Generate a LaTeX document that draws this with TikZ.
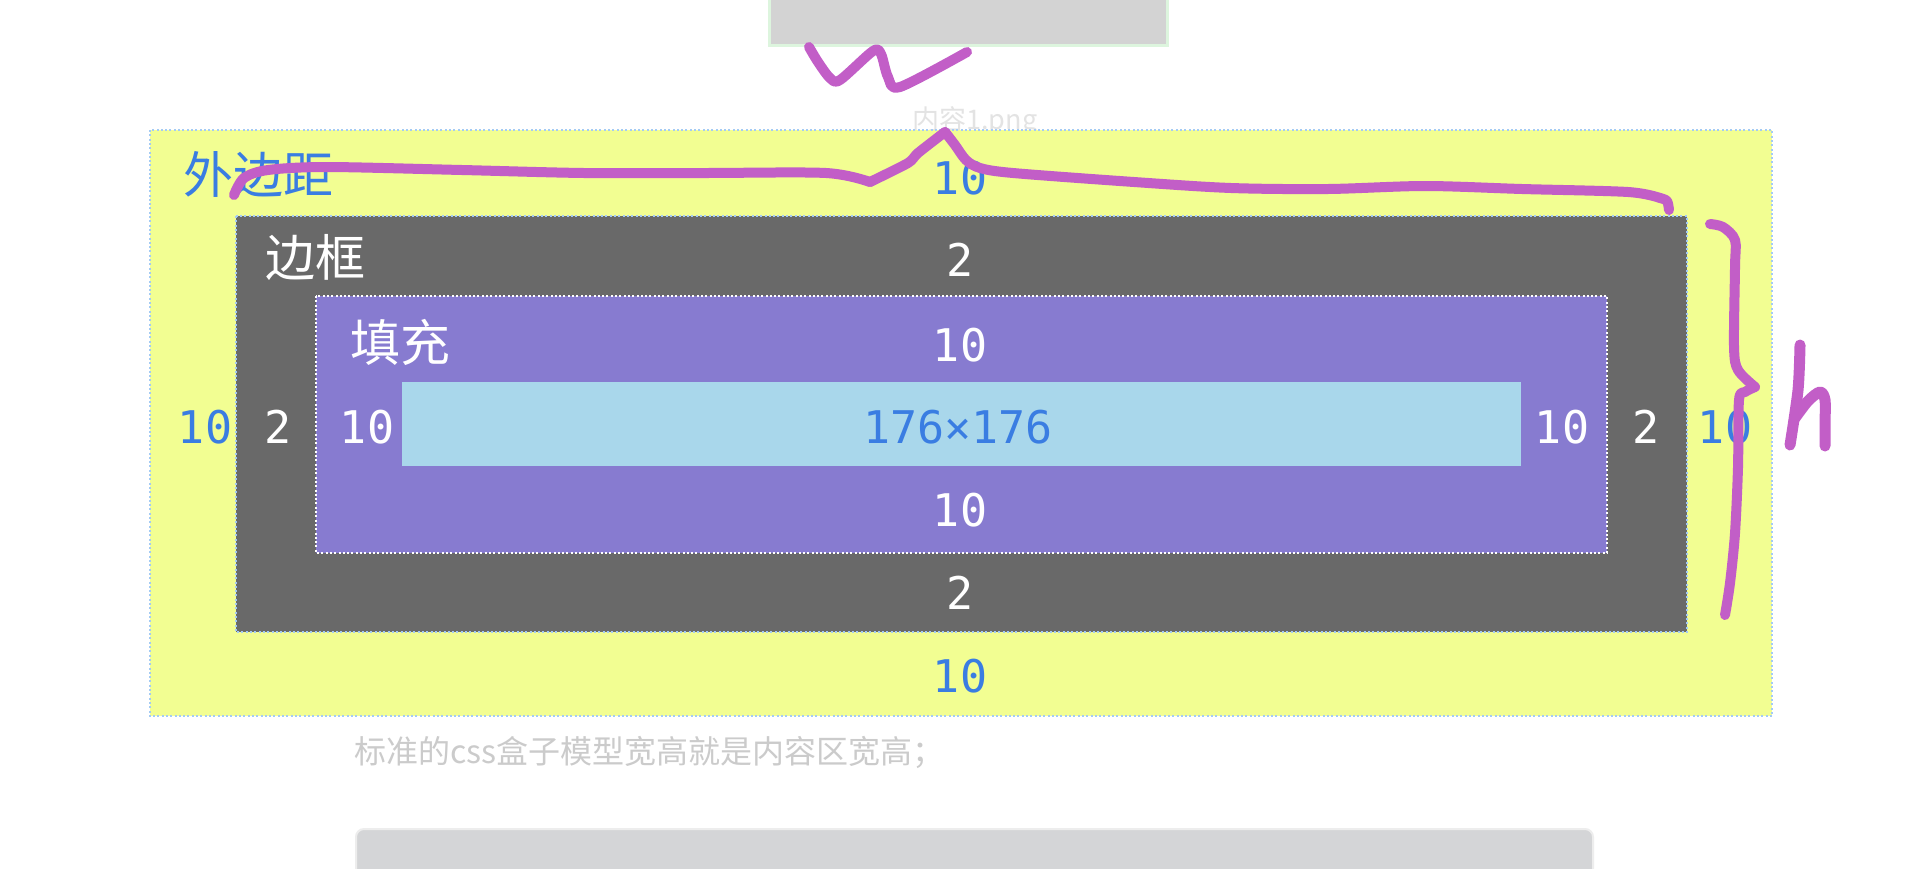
\documentclass[tikz,border=0pt]{standalone}
\usepackage{fontspec}
\setmonofont{DejaVu Sans Mono}
\newfontfamily\cjk{Noto Sans CJK SC}
\definecolor{marginyellow}{HTML}{F2FE92}
\definecolor{bordergray}{HTML}{696969}
\definecolor{padpurple}{HTML}{877BD0}
\definecolor{contentblue}{HTML}{A9D7EB}
\definecolor{numblue}{HTML}{3A7DE2}
\definecolor{dotblue}{HTML}{A4CBF4}
\definecolor{inkmag}{HTML}{C25EC7}
\definecolor{topgray}{HTML}{D3D3D3}
\definecolor{topedge}{HTML}{DDF5DE}
\definecolor{capgray}{HTML}{E3E3E3}
\definecolor{captwogray}{HTML}{CBCBCB}
\definecolor{botgray}{HTML}{D4D5D7}
\definecolor{botedge}{HTML}{EDEDED}
\begin{document}
\begin{tikzpicture}[x=0.5pt,y=-0.5pt,
  num/.style={font=\fontsize{22.5}{24}\selectfont\ttfamily, inner sep=0pt},
  bluenum/.style={num, text=numblue},
  whitenum/.style={num, text=white},
  cjklab/.style={font=\fontsize{25}{27}\selectfont\cjk, inner sep=0pt},
  dotline/.style={line width=1.2pt, dash pattern=on 1pt off 1.15pt},
  ink/.style={draw=inkmag, line width=5pt, line cap=round, line join=round},
]
\useasboundingbox (0,0) rectangle (1930,868);
\fill[white] (0,0) rectangle (1930,868);

% top image placeholder
\filldraw[fill=topgray, draw=topedge, line width=1.5pt] (769,-6) rectangle (1167,45);
\node[anchor=base west, inner sep=0pt, text=capgray, font=\fontsize{13.5}{15}\selectfont\cjk] (imgcap) at (912,129) {内容1.png};

% margin box
\fill[marginyellow] (150,130) rectangle (1772,716);
\draw[dotline, draw=dotblue] (150,130) rectangle (1772,716);
% border box
\fill[bordergray] (236,216) rectangle (1687,632);
\draw[dotline, draw=dotblue, line width=0.9pt] (236,216) rectangle (1687,632);
% padding box
\fill[padpurple] (316,296) rectangle (1607,553);
\draw[dotline, draw=white] (316,296) rectangle (1607,553);
% content box
\fill[contentblue] (402,382) rectangle (1521,466);

% labels
\node[cjklab, text=numblue] (mlab) at (258,175) {外边距};
\node[cjklab, text=white] (blab) at (315,257) {边框};
\node[cjklab, text=white] (plab) at (400,342) {填充};

\node[bluenum] (mtop) at (960,178) {10};
\node[whitenum] (btop) at (960,260) {2};
\node[whitenum] (ptop) at (960,345) {10};
\node[bluenum] (content) at (958,427) {176×176};
\node[whitenum] (pbot) at (960,510) {10};
\node[whitenum] (bbot) at (960,593) {2};
\node[bluenum] (mbot) at (960,676) {10};

\node[bluenum] (mleft) at (205,427) {10};
\node[whitenum] (bleft) at (278,427) {2};
\node[whitenum] (pleft) at (367,427) {10};
\node[whitenum] (pright) at (1562,427) {10};
\node[whitenum] (bright) at (1646,427) {2};
\node[bluenum] (mright) at (1725,427) {10};

% caption
\node[anchor=west, inner sep=0pt, text=captwogray, font=\fontsize{16}{18}\selectfont\cjk] (caption) at (354,752) {标准的css盒子模型宽高就是内容区宽高；};

% bottom code block
\filldraw[fill=botgray, draw=botedge, line width=1pt, rounded corners=4pt] (356,829) rectangle (1593,910);

% hand-drawn annotations
\draw[ink] plot[smooth, tension=0.5] coordinates {(809,47) (818,62) (830,78) (840,80) (873,51) (881,54) (888,77) (900,87) (967,52)};

\draw[ink] plot[smooth, tension=0.5] coordinates {(234,195) (244,178) (268,170) (327,167) (462,170) (584,173) (705,173) (826,173) (870,182)};
\draw[ink] plot[smooth, tension=0.4] coordinates {(870,182) (908,163) (918,153) (945,132)};
\draw[ink] plot[smooth, tension=0.5] coordinates {(945,132) (955,145) (966,160) (980,168) (1013,173) (1134,182) (1231,188) (1328,189) (1425,186) (1522,189) (1628,192) (1660,198)};
\draw[ink] plot[smooth, tension=0.5] coordinates {(1660,198) (1667,201) (1669,210)};

\draw[ink] plot[smooth, tension=0.5] coordinates {(1710,224) (1723,227) (1735,240) (1735,267) (1734,347) (1738,370) (1755,387)};
\draw[ink] plot[smooth, tension=0.5] coordinates {(1755,387) (1745,392) (1739,400) (1738,467) (1735,533) (1730,583) (1725,615)};

\draw[ink, line width=5.5pt] plot[smooth, tension=0.5] coordinates {(1800,345) (1798,390) (1790,445)};
\draw[ink, line width=5.5pt] plot[smooth, tension=0.5] coordinates {(1795,418) (1808,401) (1820,392) (1825,400) (1825,425) (1825,446)};
\end{tikzpicture}
\end{document}
